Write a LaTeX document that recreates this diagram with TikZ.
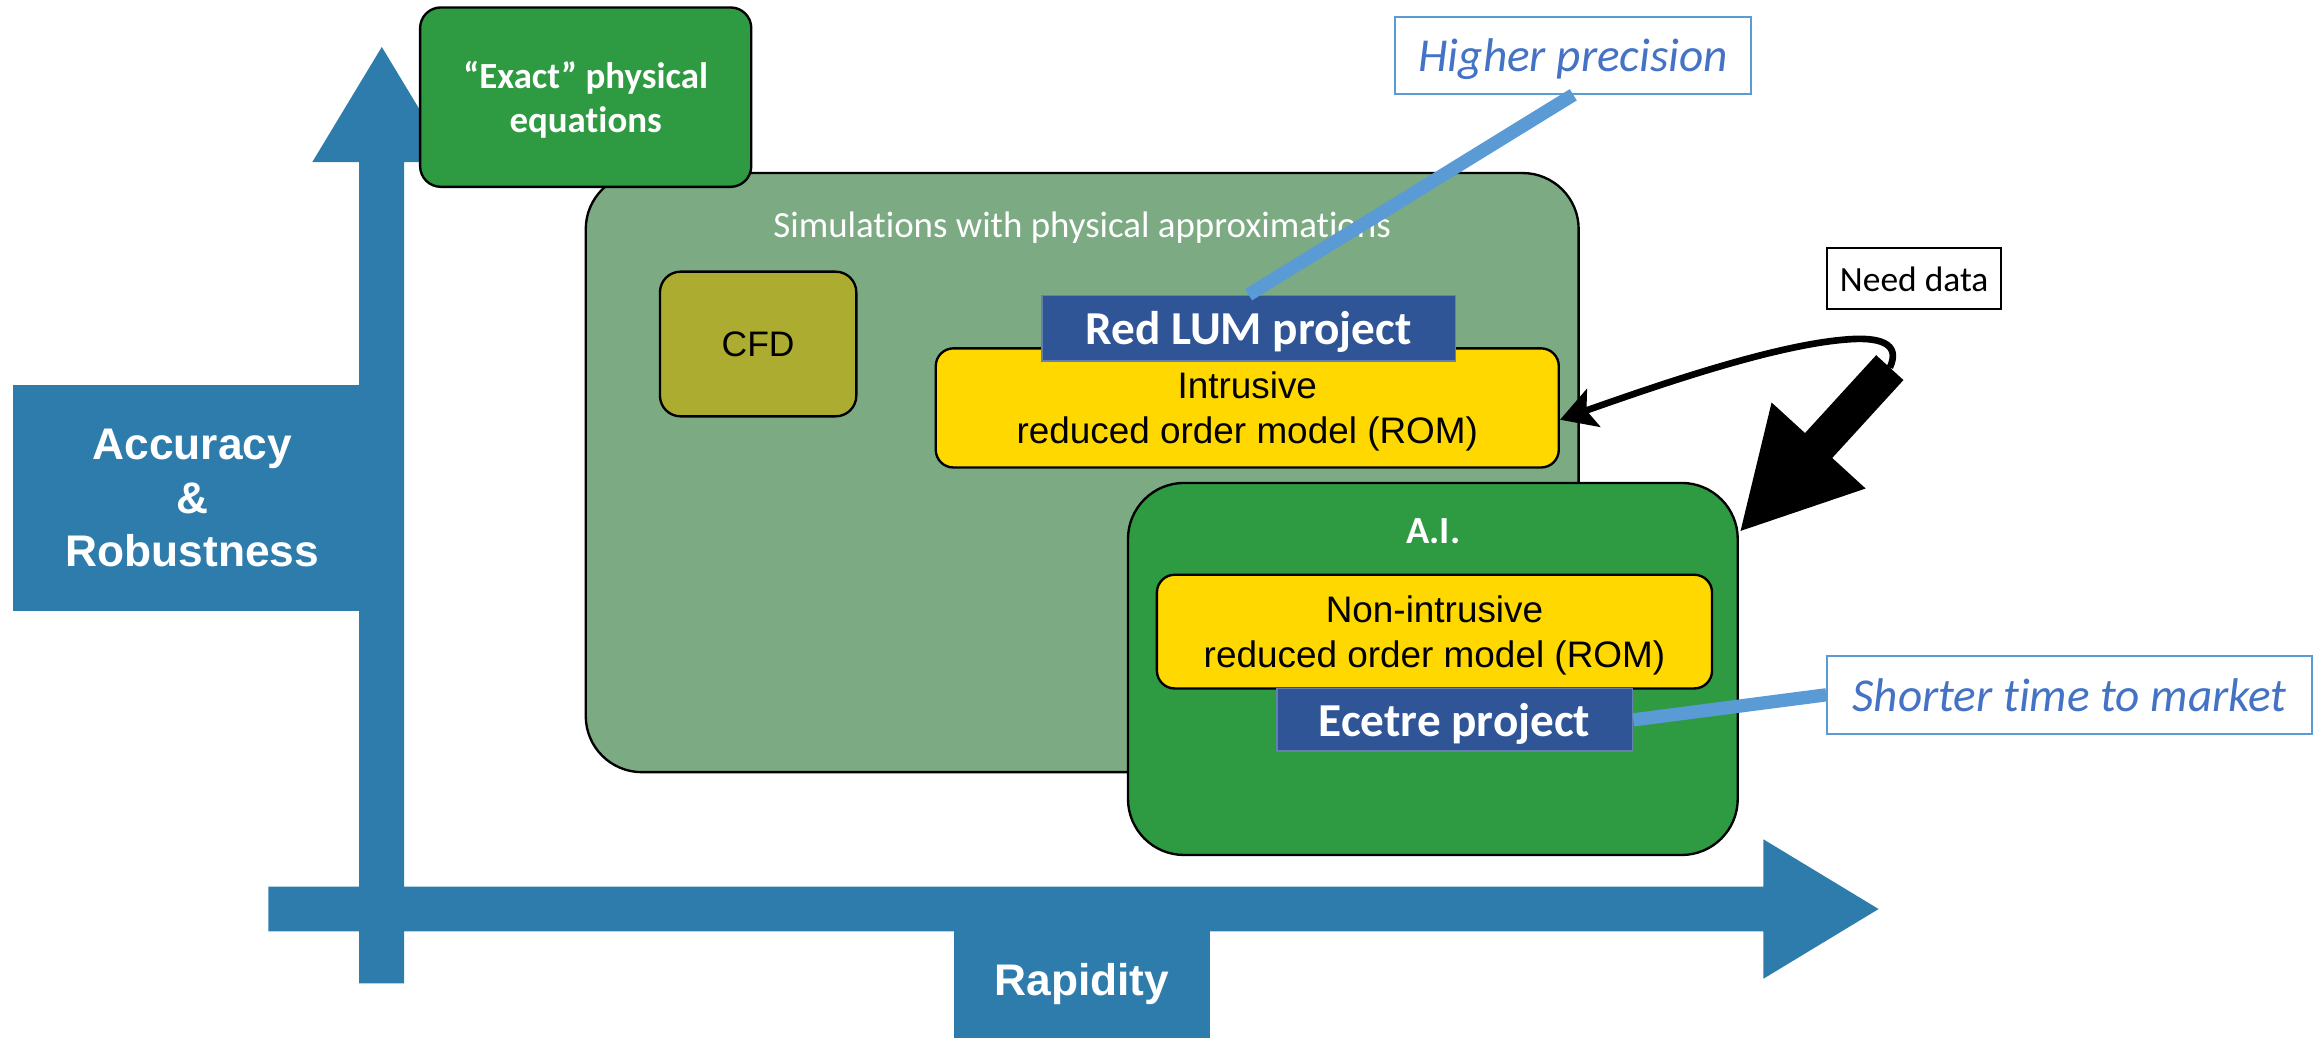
\documentclass[tikz,border=0pt]{standalone}
\usepackage{fontspec}
\setmainfont{Carlito}[Ligatures={TeX,NoCommon}]
\newfontfamily\arialfont{Liberation Sans}
\usetikzlibrary{arrows.meta}
\definecolor{axisblue}{HTML}{2E7CAC}
\definecolor{darkgreen}{HTML}{2E9A42}
\definecolor{simgreen}{HTML}{7CAB83}
\definecolor{cfdolive}{HTML}{ACAC30}
\definecolor{romgold}{HTML}{FFD800}
\definecolor{projblue}{HTML}{2F5597}
\definecolor{noteblue}{HTML}{5B9BD5}
\definecolor{notetext}{HTML}{4472C4}

\begin{document}
\begin{tikzpicture}[x=1pt, y=-1pt, text depth=0pt]
	\tikzstyle{Label}   = [shape=rectangle, fill=axisblue, text=white, inner sep=0pt, align=center, font=\arialfont\bfseries\fontsize{30}{36.3}\selectfont]
	\tikzstyle{Field}   = [shape=rectangle, draw=black, line width=1.6pt, inner sep=0pt, align=center]
	\tikzstyle{Model}   = [Field, fill=romgold, rounded corners=12pt, font=\arialfont\fontsize{25}{30.4}\selectfont]
	\tikzstyle{Project} = [shape=rectangle, fill=projblue, draw=projblue!75!white, line width=1.2pt, text=white, inner sep=0pt, font=\bfseries\fontsize{32}{38}\selectfont]
	\tikzstyle{Note}    = [shape=rectangle, draw=noteblue, line width=1.3pt, fill=white, text=notetext, inner sep=0pt, font=\itshape\fontsize{32}{38}\selectfont]
	\tikzstyle{Link}    = [draw=noteblue, line width=9pt]

	\useasboundingbox (0,0) rectangle (1568,703);

	% axes
	\fill[axisblue] (181.7,600.6) -- (1194.4,600.6) -- (1194.4,568.5) -- (1272.4,615.7) -- (1194.4,662.9) -- (1194.4,630.8) -- (181.7,630.8) -- cycle;
	\fill[axisblue] (243.3,666) -- (243.3,109.8) -- (211.5,109.8) -- (258.6,31.8) -- (305.7,109.8) -- (273.8,109.8) -- (273.8,666) -- cycle;

	\node[Label, minimum width=243pt, minimum height=153.2pt] (Label-y) at (130.3,337.4) {Accuracy\\\&\\Robustness};
	\node[Label, minimum width=173.5pt, minimum height=79.6pt] (Label-x) at (732.8,663.2) {Rapidity};

	% simulations
	\node[Field, fill=simgreen, rounded corners=38pt, minimum width=672.5pt, minimum height=405.8pt] (Sim) at (733,320.1) {};
	\node[anchor=base, text=white, font=\fontsize{25}{30}\selectfont] (Sim-title) at (733,160.7) {Simulations with physical approximations};

	\node[Field, fill=darkgreen, rounded corners=14pt, minimum width=224.3pt, minimum height=121.5pt, text=white, font=\bfseries\fontsize{25}{29.7}\selectfont] (Exact) at (396.7,65.8) {``Exact'' physical\\equations};

	\node[Field, fill=cfdolive, rounded corners=14pt, minimum width=133pt, minimum height=98pt, font=\arialfont\fontsize{24}{29}\selectfont] (Cfd) at (513.5,233) {CFD};

	\node[Model, minimum width=422pt, minimum height=80.7pt] (Rom-intrusive) at (844.8,276.3) {Intrusive\\reduced order model (ROM)};
	\node[Project, minimum width=280.2pt, minimum height=44.2pt] (Proj-redlum) at (845.7,222.3) {Red LUM project};

	% A.I.
	\node[Field, fill=darkgreen, rounded corners=38pt, minimum width=413pt, minimum height=252pt] (Ai) at (970.5,453.1) {};
	\node[anchor=base, text=white, font=\bfseries\fontsize{26}{30}\selectfont] (Ai-title) at (970.8,368.3) {A.I.};

	\node[Model, minimum width=376pt, minimum height=77pt] (Rom-nonintrusive) at (971.6,427.8) {Non-intrusive\\reduced order model (ROM)};
	\node[Project, minimum width=241pt, minimum height=42.6pt] (Proj-ecetre) at (985.2,487.6) {Ecetre project};

	% notes
	\node[Note, minimum width=241.3pt, minimum height=51.9pt] (Note-precision) at (1065.6,37.6) {Higher precision};
	\node[Note, minimum width=328.1pt, minimum height=52.5pt] (Note-market) at (1401.7,470.6) {Shorter time to market};
	\node[shape=rectangle, draw=black, line width=1.4pt, inner sep=0pt, minimum width=117.8pt, minimum height=41.6pt, font=\fontsize{24}{28}\selectfont] (Need) at (1296.5,188.8) {Need data};

	\draw[Link] (Note-precision.south) -- (Proj-redlum.north);
	\draw[Link] (Proj-ecetre.east) -- (Note-market.west);

	% need data loop
	\coordinate (Knot) at (1280,249);
	\draw[line width=4.5pt, -{Stealth[length=24pt, width=27pt, inset=5pt]}] (Knot) .. controls (1288,232) and (1272,228) .. (1250,230) .. controls (1200,234) and (1120,262) .. ([yshift=-8pt]Rom-intrusive.east);
	\draw[line width=25pt, -{Triangle[length=80pt, width=80pt]}] (Knot) -- (Ai.24);
\end{tikzpicture}
\end{document}
